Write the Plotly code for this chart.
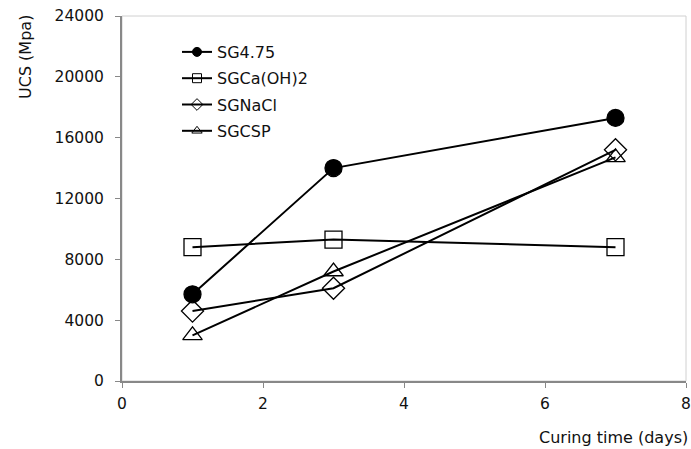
import plotly.graph_objects as go

# Curing time (days) and UCS values per mix
days = [1, 3, 7]
sg475 = [5700, 14000, 17300]
sg_caoh2 = [8800, 9300, 8800]
sg_nacl = [4600, 6100, 15200]
sg_csp = [3000, 7200, 14700]

y_ticks = [0, 4000, 8000, 12000, 16000, 20000, 24000]
x_ticks = [0, 2, 4, 6, 8]

series = [
    ("SG4.75", sg475, "circle"),
    ("SGCa(OH)2", sg_caoh2, "square-open"),
    ("SGNaCl", sg_nacl, "diamond-open"),
    ("SGCSP", sg_csp, "triangle-up-open"),
]

FONT = "DejaVu Sans, Verdana, sans-serif"
W, H = 691, 449
L, R, T, B = 122, 5, 16, 68
fig = go.Figure()

for name, vals, sym in series:
    fig.add_trace(go.Scatter(
        x=days, y=vals, mode="lines+markers", name=name, showlegend=False,
        line=dict(color="black", width=2),
        marker=dict(symbol=sym, size=17, color="black",
                    line=dict(color="black", width=1.3)),
    ))

# Legend entries with smaller markers
for name, vals, sym in series:
    fig.add_trace(go.Scatter(
        x=[None], y=[None], mode="lines+markers", name=name, legendgroup=name,
        line=dict(color="black", width=2),
        marker=dict(symbol=sym, size=9, color="black",
                    line=dict(color="black", width=1)),
    ))

pw = W - L - R
ph = H - T - B


def px(xp):
    return (xp - L) / pw


def py(yp):
    return 1 - (yp - T) / ph


fig.update_layout(
    width=W, height=H,
    margin=dict(l=L, r=R, t=T, b=B, autoexpand=False),
    paper_bgcolor="white", plot_bgcolor="white",
    font=dict(family=FONT, size=16, color="#111"),
    legend=dict(x=px(177), y=py(35), xanchor="left", yanchor="top",
                bgcolor="rgba(0,0,0,0)", font=dict(size=16),
                traceorder="grouped", tracegroupgap=2.5),
    shapes=[dict(type="rect", xref="paper", yref="paper", x0=0, y0=0, x1=1, y1=1,
                 line=dict(color="#d0d0d0", width=1), layer="below")],
    annotations=[
        dict(text="UCS (Mpa)", xref="paper", yref="paper", x=px(26), y=py(57),
             xanchor="center", yanchor="middle",
             textangle=-90, showarrow=False, font=dict(size=16)),
        dict(text="Curing time (days)", xref="paper", yref="paper", x=px(613), y=py(437),
             xanchor="center", yanchor="middle",
             showarrow=False, font=dict(size=16)),
    ],
)
fig.update_xaxes(range=[0, 8], tickvals=x_ticks, ticktext=[str(v) for v in x_ticks],
                 showgrid=False, zeroline=False, automargin=False,
                 showline=True, linecolor="#888", linewidth=2,
                 ticks="outside", ticklen=5, tickcolor="#888", tickfont=dict(size=15.5),
                 ticklabelstandoff=2)
fig.update_yaxes(range=[0, 24000], tickvals=y_ticks, ticktext=[str(v) for v in y_ticks],
                 showgrid=False, zeroline=False, automargin=False,
                 showline=True, linecolor="#888", linewidth=2,
                 ticks="outside", ticklen=5, tickcolor="#888", tickfont=dict(size=15.5),
                 ticklabelstandoff=8)

fig.write_html("out.html")
